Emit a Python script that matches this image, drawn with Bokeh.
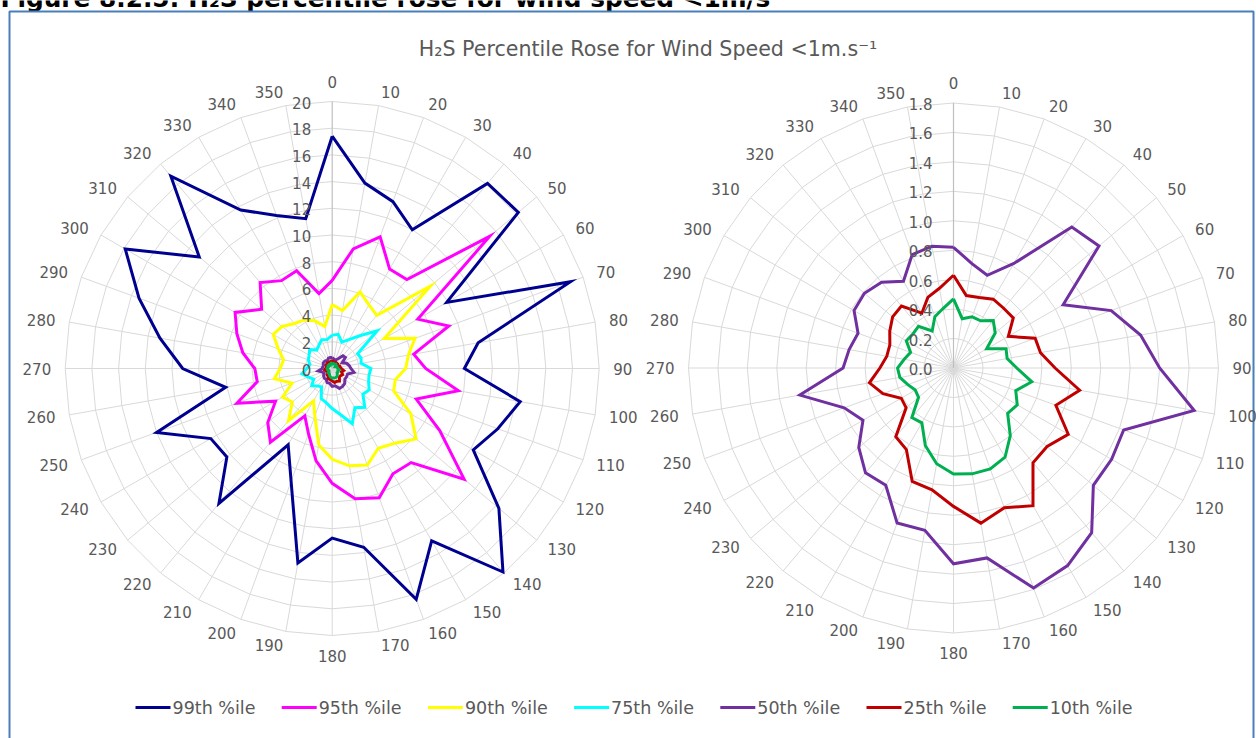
import numpy as np
from bokeh.plotting import figure
from bokeh.models import Range1d
from bokeh.embed import file_html
from bokeh.resources import INLINE
from bokeh.core.properties import value

# ---------------- data ----------------
directions = list(range(0, 360, 10))
dir_labels = [str(d) for d in directions]

left_ticks = [0, 2, 4, 6, 8, 10, 12, 14, 16, 18, 20]
left_tick_labels = ["0", "2", "4", "6", "8", "10", "12", "14", "16", "18", "20"]
right_ticks = [0.0, 0.2, 0.4, 0.6, 0.8, 1.0, 1.2, 1.4, 1.6, 1.8]
right_tick_labels = ["0.0", "0.2", "0.4", "0.6", "0.8", "1.0", "1.2", "1.4", "1.6", "1.8"]

p99 = [17.4, 14.1, 13.3, 12.0, 18.1, 18.2, 9.9, 19.0, 11.1, 9.9, 14.3, 13.2, 12.2, 16.3, 19.9, 14.9, 18.4, 13.6,
       12.7, 14.8, 9.0, 6.6, 13.2, 10.3, 10.5, 14.0, 8.1, 11.2, 13.1, 15.4, 17.9, 13.0, 18.8, 13.7, 12.2, 11.4]
p95 = [6.6, 9.1, 10.5, 8.6, 8.7, 15.4, 7.4, 9.3, 6.2, 7.0, 9.6, 6.7, 9.3, 12.9, 9.2, 9.1, 10.3, 9.9,
       8.6, 7.0, 5.2, 4.1, 7.2, 6.3, 4.9, 7.6, 5.7, 5.8, 6.8, 7.6, 8.4, 6.9, 8.4, 7.6, 7.8, 5.7]
p90 = [4.8, 4.4, 6.1, 5.5, 5.2, 9.6, 4.5, 6.6, 5.8, 5.5, 4.8, 4.9, 6.8, 8.2, 7.3, 6.9, 7.7, 7.4,
       6.8, 5.8, 3.8, 2.8, 5.1, 3.9, 4.3, 3.2, 4.4, 3.9, 3.7, 4.3, 5.1, 4.9, 4.4, 4.2, 3.8, 3.2]
p75 = [2.5, 2.6, 2.1, 2.5, 3.2, 4.4, 2.2, 2.3, 2.2, 2.9, 2.8, 2.9, 3.2, 3.0, 3.8, 3.4, 4.4, 3.5,
       3.0, 2.6, 2.4, 1.6, 1.7, 2.0, 1.6, 1.9, 2.3, 1.9, 1.7, 1.9, 2.0, 2.2, 1.8, 2.0, 2.3, 2.2]
p50 = [0.82, 0.72, 0.67, 0.82, 1.25, 1.29, 0.86, 1.14, 1.29, 1.40, 1.66, 1.23, 1.24, 1.24, 1.46, 1.55, 1.59, 1.31,
       1.33, 1.12, 1.12, 0.92, 0.93, 0.84, 0.71, 0.79, 1.06, 0.75, 0.72, 0.69, 0.78, 0.79, 0.76, 0.68, 0.82, 0.84]
p25 = [0.63, 0.50, 0.51, 0.54, 0.53, 0.53, 0.43, 0.59, 0.60, 0.69, 0.87, 0.74, 0.90, 0.83, 0.84, 1.08, 1.01, 1.07,
       0.94, 0.84, 0.82, 0.64, 0.61, 0.42, 0.41, 0.51, 0.58, 0.50, 0.46, 0.46, 0.50, 0.54, 0.55, 0.43, 0.51, 0.55]
p10 = [0.47, 0.34, 0.37, 0.37, 0.42, 0.37, 0.26, 0.38, 0.37, 0.43, 0.54, 0.45, 0.50, 0.48, 0.60, 0.70, 0.73, 0.73,
       0.72, 0.66, 0.56, 0.43, 0.44, 0.31, 0.30, 0.33, 0.37, 0.38, 0.34, 0.31, 0.37, 0.36, 0.37, 0.29, 0.37, 0.41]

series_names = ["99th %ile", "95th %ile", "90th %ile", "75th %ile", "50th %ile", "25th %ile", "10th %ile"]
series_values = [p99, p95, p90, p75, p50, p25, p10]
series_colors = ["#000090", "#FF00FF", "#FFFF00", "#00FFFF", "#7030A0", "#C00000", "#00B050"]

title_text = "H\u2082S Percentile Rose for Wind Speed <1m.s\u207b\u00b9"
caption_text = "Figure 8.2.5: H\u2082S percentile rose for wind speed <1m/s"

# ---------------- layout ----------------
FONT = "DejaVu Sans"
TXT = "#595959"
GRID = "#d9d9d9"
W, H = 1256, 738

charts = [
    dict(cx=331.7, cy=368.0, R=267.0, vmax=20.0, ticks=left_ticks, tlabels=left_tick_labels,
         series=[0, 1, 2, 3, 4, 5, 6]),
    dict(cx=953.0, cy=367.5, R=265.0, vmax=1.8, ticks=right_ticks, tlabels=right_tick_labels,
         series=[4, 5, 6]),
]

p = figure(width=W, height=H, x_range=Range1d(0, W), y_range=Range1d(H, 0),
           output_backend="svg", toolbar_location=None,
           x_axis_location=None, y_axis_location=None, min_border=0)
p.grid.visible = False
p.outline_line_color = None
p.background_fill_color = "white"
p.border_fill_color = "white"

th = np.deg2rad(np.array(directions, dtype=float))


def polar(c, vals):
    r = np.asarray(vals, dtype=float) / c["vmax"] * c["R"]
    return c["cx"] + r * np.sin(th), c["cy"] - r * np.cos(th)


# caption (cut off at the top edge, as in the source page) and frame
p.text(x=[0], y=[-2], text=[caption_text], text_font=value(FONT), text_font_style="bold",
       text_font_size=value("24.8px"), text_color="black", text_align="left", text_baseline="middle")
p.quad(left=[9], right=[1253], top=[11], bottom=[760], fill_color=None, line_color="#4a7ebb", line_width=2)

p.text(x=[647.5], y=[48], text=[title_text], text_font=value(FONT), text_font_size=value("20.6px"),
       text_color=TXT, text_align="center", text_baseline="middle")

for c in charts:
    # rings
    xs, ys = [], []
    for t in c["ticks"][1:]:
        gx, gy = polar(c, [t] * len(directions))
        xs.append(list(gx) + [gx[0]])
        ys.append(list(gy) + [gy[0]])
    p.multi_line(xs, ys, line_color=GRID, line_width=1)
    # spokes
    ox, oy = polar(c, [c["vmax"]] * len(directions))
    sx = [[c["cx"], ox[i]] for i in range(1, len(directions))]
    sy = [[c["cy"], oy[i]] for i in range(1, len(directions))]
    p.multi_line(sx, sy, line_color=GRID, line_width=1)
    p.line([c["cx"], ox[0]], [c["cy"], oy[0]], line_color="#bfbfbf", line_width=1.2)

    # series
    for si in c["series"]:
        x, y = polar(c, series_values[si])
        p.line(list(x) + [x[0]], list(y) + [y[0]], line_color=series_colors[si], line_width=3,
               line_join="miter")

    # category labels: anchored just outside the outer ring
    rl = c["R"] + 14
    lx = c["cx"] + rl * np.sin(th)
    ly = c["cy"] - rl * np.cos(th)
    groups = {}
    for d, x, y, lab in zip(directions, lx, ly, dir_labels):
        align = "center" if d in (0, 180) else ("left" if d < 180 else "right")
        base = "bottom" if d == 0 else ("top" if d == 180 else "middle")
        groups.setdefault((align, base), ([], [], []))
        g = groups[(align, base)]
        g[0].append(x); g[1].append(y); g[2].append(lab)
    for (align, base), (gx, gy, gt) in groups.items():
        p.text(x=gx, y=gy, text=gt, text_font=value(FONT), text_font_size=value("15px"),
               text_color=TXT, text_align=align, text_baseline=base)

    # radial tick labels
    ty = [c["cy"] - t / c["vmax"] * c["R"] + 1 for t in c["ticks"]]
    p.text(x=[c["cx"] - 21] * len(ty), y=ty, text=c["tlabels"], text_font=value(FONT),
           text_font_size=value("15px"), text_color=TXT, text_align="right", text_baseline="middle")

# legend
for i, (name, col) in enumerate(zip(series_names, series_colors)):
    x0 = 135 + i * 146.2
    p.line([x0, x0 + 35], [707, 707], line_color=col, line_width=3)
    p.text(x=[x0 + 37], y=[707], text=[name], text_font=value(FONT), text_font_size=value("17.5px"),
           text_color=TXT, text_align="left", text_baseline="middle")

open("out.html", "w").write(file_html(p, INLINE))
